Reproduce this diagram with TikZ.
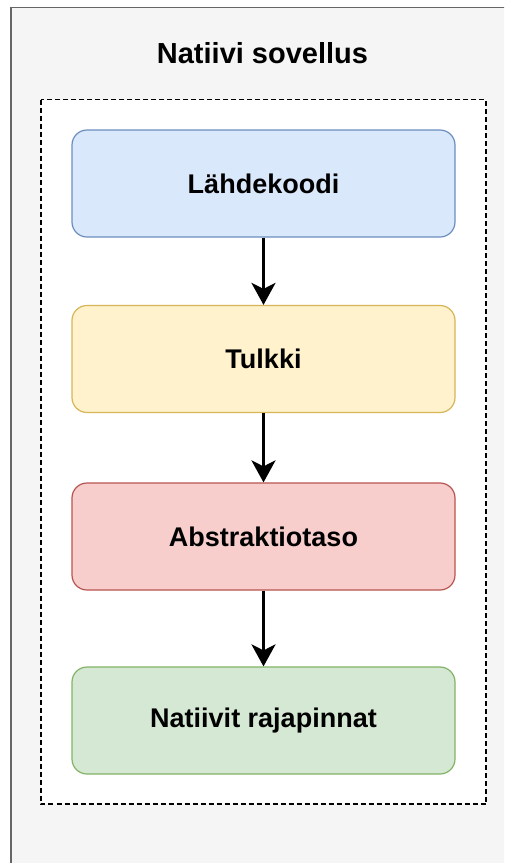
\documentclass[tikz,border=0pt]{standalone}
\usepackage{fontspec}
\setmainfont{Liberation Sans}
\usetikzlibrary{arrows.meta}

\definecolor{panelfill}{HTML}{F5F5F5}
\definecolor{panelline}{HTML}{666666}
\definecolor{bluefill}{HTML}{DAE8FC}
\definecolor{blueline}{HTML}{6C8EBF}
\definecolor{yellowfill}{HTML}{FFF2CC}
\definecolor{yellowline}{HTML}{D6B656}
\definecolor{redfill}{HTML}{F8CECC}
\definecolor{redline}{HTML}{B85450}
\definecolor{greenfill}{HTML}{D5E8D4}
\definecolor{greenline}{HTML}{82B366}

\tikzset{
  layerbox/.style={rounded corners=15pt, line width=1.2pt,
    minimum width=383pt, minimum height=107pt, inner sep=0pt,
    font=\bfseries\fontsize{27}{32}\selectfont},
  flowarrow/.style={line width=3pt,
    -{Stealth[length=22pt,width=24pt,inset=6pt]}},
}

\begin{document}
\begin{tikzpicture}[x=1pt,y=-1pt]
  \useasboundingbox (0,0) rectangle (504,863);
  \clip (0,0) rectangle (504,863);
  \fill[white] (0,0) rectangle (504,863);

  % application panel, running past the page edge
  \draw[fill=panelfill, draw=panelline, line width=1.5pt]
    (11,7.5) rectangle (540,900);
  \node[font=\bfseries\fontsize{29}{34}\selectfont] (title) at (262.5,53) {Natiivi sovellus};

  % dashed container
  \draw[fill=white, dashed, dash pattern=on 5pt off 3pt, line width=1.5pt]
    (41,99.5) rectangle (486,804);

  % layers
  \node[layerbox, fill=bluefill, draw=blueline]     (src)  at (263.5,183.5) {Lähdekoodi};
  \node[layerbox, fill=yellowfill, draw=yellowline] (intp) at (263.5,359)   {Tulkki};
  \node[layerbox, fill=redfill, draw=redline]       (abs)  at (263.5,536.5) {Abstraktiotaso};
  \node[layerbox, fill=greenfill, draw=greenline]   (nat)  at (263.5,720.5) {Natiivit rajapinnat};

  \draw[flowarrow] (src.south) -- (intp.north);
  \draw[flowarrow] (intp.south) -- (abs.north);
  \draw[flowarrow] (abs.south) -- (nat.north);
\end{tikzpicture}
\end{document}
